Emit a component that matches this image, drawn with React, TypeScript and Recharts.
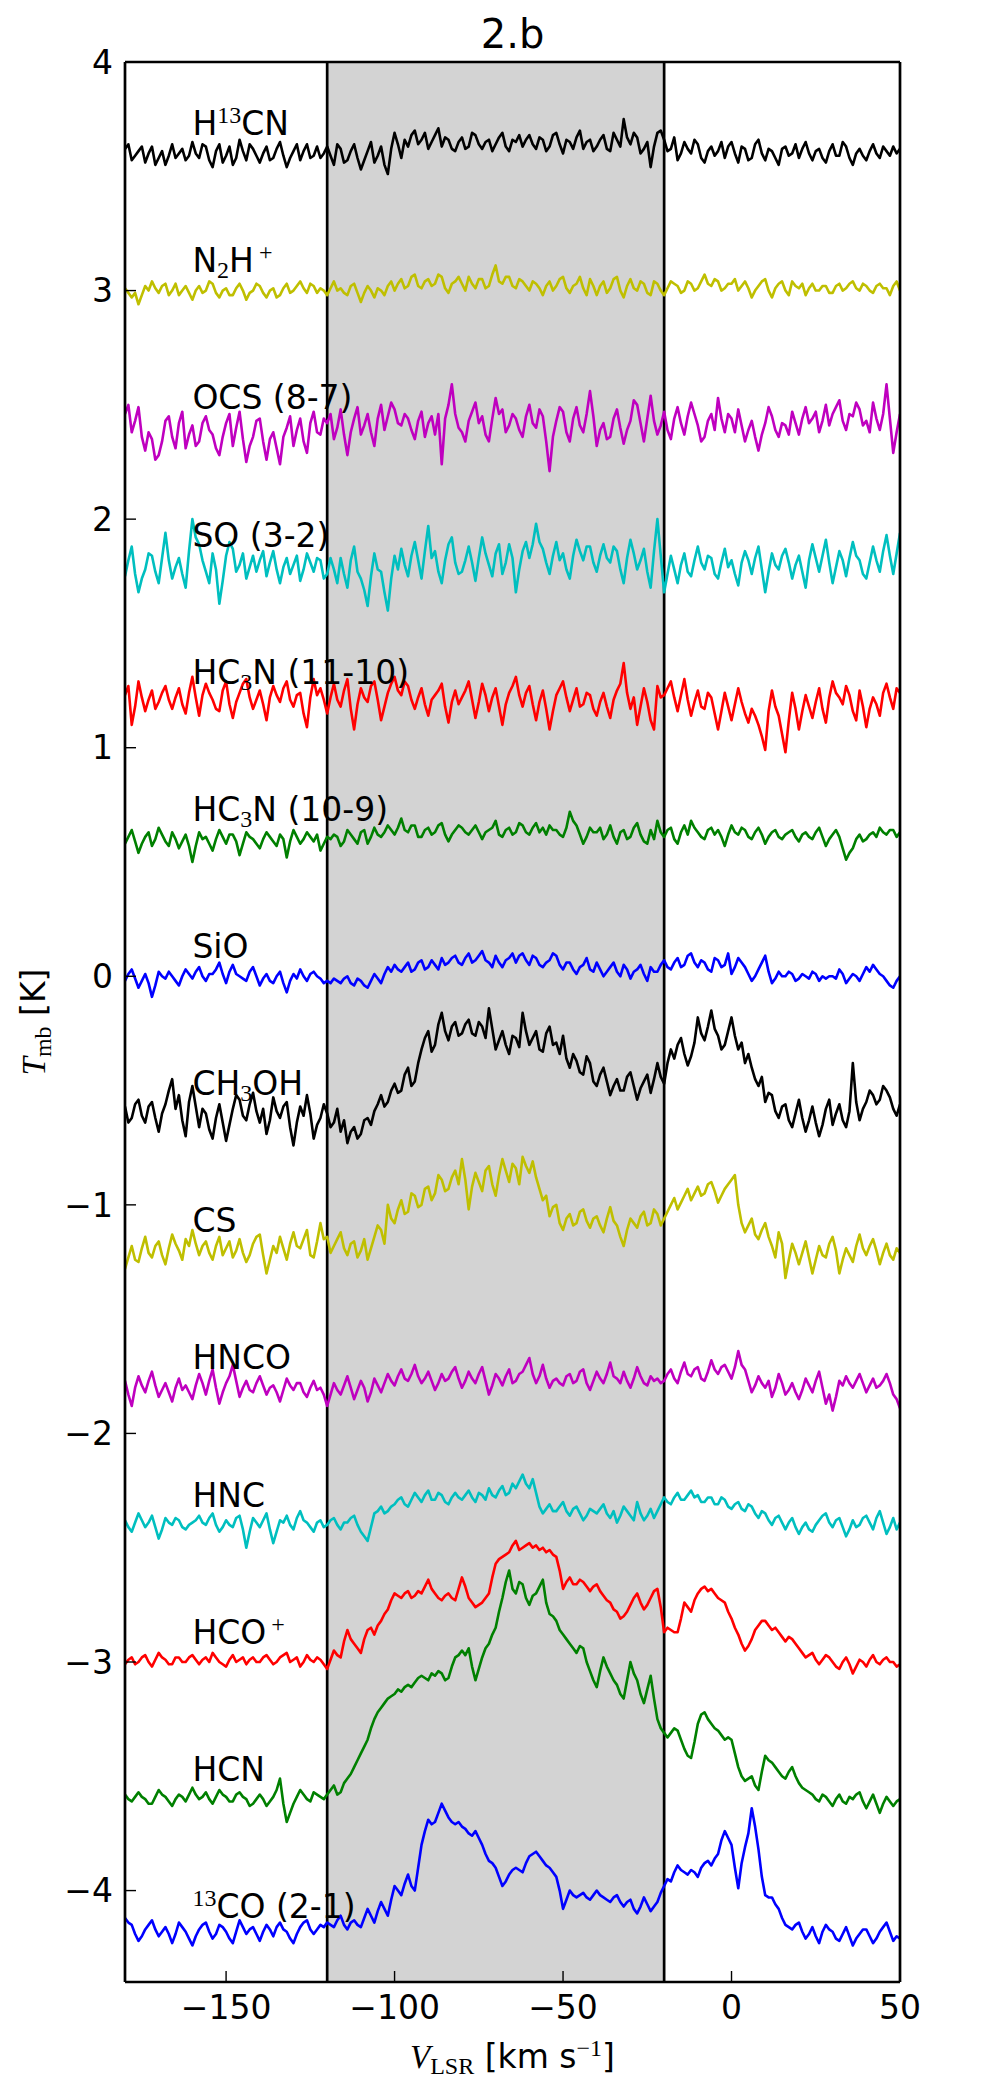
import {
  LineChart,
  Line,
  XAxis,
  YAxis,
  ReferenceArea,
  ReferenceLine,
  ReferenceDot,
} from "recharts";

// velocity channels [km/s], 1 km/s apart
const VELOCITY = [
  -180, -179, -178, -177, -176, -175, -174, -173, -172, -171, -170, -169, -168, -167, -166, -165, -164, -163, -162, -161,
  -160, -159, -158, -157, -156, -155, -154, -153, -152, -151, -150, -149, -148, -147, -146, -145, -144, -143, -142, -141,
  -140, -139, -138, -137, -136, -135, -134, -133, -132, -131, -130, -129, -128, -127, -126, -125, -124, -123, -122, -121,
  -120, -119, -118, -117, -116, -115, -114, -113, -112, -111, -110, -109, -108, -107, -106, -105, -104, -103, -102, -101,
  -100, -99, -98, -97, -96, -95, -94, -93, -92, -91, -90, -89, -88, -87, -86, -85, -84, -83, -82, -81,
  -80, -79, -78, -77, -76, -75, -74, -73, -72, -71, -70, -69, -68, -67, -66, -65, -64, -63, -62, -61,
  -60, -59, -58, -57, -56, -55, -54, -53, -52, -51, -50, -49, -48, -47, -46, -45, -44, -43, -42, -41,
  -40, -39, -38, -37, -36, -35, -34, -33, -32, -31, -30, -29, -28, -27, -26, -25, -24, -23, -22, -21,
  -20, -19, -18, -17, -16, -15, -14, -13, -12, -11, -10, -9, -8, -7, -6, -5, -4, -3, -2, -1,
  0, 1, 2, 3, 4, 5, 6, 7, 8, 9, 10, 11, 12, 13, 14, 15, 16, 17, 18, 19,
  20, 21, 22, 23, 24, 25, 26, 27, 28, 29, 30, 31, 32, 33, 34, 35, 36, 37, 38, 39,
  40, 41, 42, 43, 44, 45, 46, 47, 48, 49, 50,
];

// vertical offset of each spectrum [K]
const OFFSETS = [3.6, 3.0, 2.4, 1.8, 1.2, 0.6, 0, -0.6, -1.2, -1.8, -2.4, -3.0, -3.6, -4.2];

const COLORS = [
  "#000000", "#bfbf00", "#bf00bf", "#00bfbf", "#ff0000", "#008000", "#0000ff",
  "#000000", "#bfbf00", "#bf00bf", "#00bfbf", "#ff0000", "#008000", "#0000ff",
];

// spectra in hundredths of K, before the offset (one row = 20 km/s)
const H13CN = [
  2, 4, -3, -1, 1, 3, -4, 0, 3, -5, -2, 1, -5, -1, 4, -2, 0, 2, -3, -1,
  5, 0, -2, 4, 3, -3, -6, 1, 4, -4, -1, 3, -5, -2, 6, 1, -3, 4, 2, -1,
  -4, 0, 3, -3, -2, 2, 5, -1, -6, -2, 1, 4, -3, 1, 4, -2, -1, 3, -2, 0,
  3, -1, -5, 4, 2, -4, -3, 1, 4, -2, -7, -3, 1, 5, -4, -1, 3, -5, -9, 2,
  9, 4, -2, 6, 3, 8, 10, 4, 6, 9, 2, 5, 8, 11, 3, 7, 6, 2, 1, 5,
  7, 2, 3, 9, 8, 4, 2, 5, 6, 1, 4, 7, 9, 3, 1, 6, 5, 8, 3, 6,
  8, 4, 2, 7, 6, 1, 3, 8, 9, 4, 0, 6, 5, 2, 7, 10, 2, 5, 6, 1,
  3, 6, 8, 2, 1, 9, 6, 3, 15, 7, 4, 9, 7, 0, 2, 5, -6, 3, 9, 10,
  6, 1, 2, 7, -3, 0, 5, 2, 0, 6, 4, -2, -4, 1, 3, -1, 1, 5, -2, 3,
  5, 0, -4, 3, 2, -3, -2, 4, 6, 0, -3, 2, 1, -2, -5, 2, 3, -1, 0, 4,
  -2, 2, 5, 0, -3, 1, 2, -2, -4, 1, 4, -1, -1, 5, 3, -2, -5, 0, 2, -1,
  -3, 1, 4, 0, -2, 3, 1, -1, 3, 0, 2,
];
const N2HP = [
  1, -1, -3, -1, -6, -2, 2, 0, 4, 1, -1, 2, 3, -2, 0, 3, -2, 0, 2, -1,
  -4, 0, 2, -1, 0, 4, 3, -1, -3, 0, 1, -2, -2, 1, 3, 0, -4, -1, 0, 3,
  2, -1, -3, 0, 1, -3, -2, 1, 3, -1, 0, 2, 4, 1, -1, 3, 2, -1, 1, 0,
  -2, 1, 4, 0, 1, -1, -2, 2, 3, -1, -5, -1, 2, 0, -3, 1, 0, -2, 2, 4,
  0, 3, 5, 1, 2, 6, 7, 2, 1, 4, 5, 2, 3, 7, 6, 1, -1, 3, 4, 6,
  3, 0, 6, 3, 1, 5, 5, 1, 2, 7, 11, 4, 3, 6, 6, 2, 1, 5, 4, 2,
  0, 4, 3, 1, -2, 2, 4, 0, 2, 5, 6, 1, -1, 2, 3, 6, 1, -2, 5, 2,
  -2, 2, 4, -1, 1, 5, 6, 0, -3, 2, 5, 1, 0, 4, 3, -1, -2, 4, 3, 0,
  -2, 1, 4, 3, 2, -1, 0, 4, 3, 0, 1, 4, 7, 3, 2, 5, 4, 0, 1, 3,
  3, 5, 0, 2, 4, 1, -3, 0, 2, 4, 5, 0, -3, 1, 3, 4, 0, -2, 4, 2,
  1, 3, -2, 1, 3, 0, 0, 2, 2, -1, -1, 2, 3, 0, 1, 3, 4, 1, 0, 3,
  2, 0, -1, 2, 3, 1, 1, -2, 2, 4, 0,
];
const OCS = [
  6, 10, -2, 3, 9, -4, -10, -2, -5, -14, -12, -6, 3, 5, -4, -9, 2, 7, -9, -3,
  1, -8, -6, 2, 5, -1, -3, -9, -12, -4, 2, 6, -8, 0, 7, -5, -15, -8, -4, 3,
  4, -6, -14, -5, -2, -9, -16, -4, 0, 5, -8, -1, 4, -6, -11, 2, 7, -2, -3, 4,
  2, 6, -5, 0, 8, -3, -12, -2, 4, 9, -3, 1, 6, -2, -8, 4, 10, -1, 5, 11,
  8, 2, 1, 6, 4, -1, -5, 3, 7, -4, 2, 5, -3, 6, -16, 4, 10, 19, 6, 0,
  -2, -6, 3, 7, 11, 2, 5, -3, -6, 4, 13, 6, 8, -2, 1, 6, 4, -1, -4, 5,
  10, 2, 0, 8, 5, -6, -19, -4, 3, 9, 7, -2, -6, 4, 9, 1, -2, 6, 16, 5,
  -8, -1, 2, -5, -4, 4, 8, 0, -7, -1, 3, 12, 10, 2, -6, 4, 14, 3, -3, 1,
  7, -1, -5, 4, 9, 2, -3, 5, 11, 6, 1, -6, -4, 3, 6, -1, 13, 4, -2, 6,
  4, -2, 8, 1, -6, -1, 3, -4, -10, -3, 2, 9, 5, -1, -4, 2, 1, -3, 7, 2,
  -3, 4, 9, 2, 4, 7, -2, 3, 10, 1, 6, 9, 12, 3, -1, 6, 5, 11, 8, 1,
  3, -2, 11, 4, -1, 6, 19, 4, -11, -2, 6,
];
const SO = [
  -5, 2, 8, -4, -12, -6, -2, 5, 4, -3, -8, 3, 14, 2, -6, -1, 3, -4, -10, 6,
  20, 12, 9, 2, -3, -8, 5, -2, -17, -7, 4, 10, 7, -3, 0, 5, -6, -1, 4, -3,
  2, 6, -5, 1, 6, -2, -8, -1, 3, -4, 0, 4, -7, -2, 5, 1, -3, 3, 2, -6,
  -4, 3, -2, -8, 3, -4, -10, 2, 8, -3, -6, -11, -18, -5, 5, -2, -3, -12, -20, -6,
  4, -2, 7, 0, -5, 4, 10, 2, -6, 6, 17, 3, 6, -3, -8, 2, 9, 12, 1, -4,
  -3, 2, 8, 1, -7, 3, 12, 5, 0, -5, 5, 9, -4, 1, 9, 3, -12, -2, 6, 10,
  3, 9, 18, 10, 7, 1, -4, 4, 10, 2, 5, -2, -6, 4, 11, 6, 2, 8, 8, 1,
  -3, 4, 9, 3, 1, 8, 6, -2, -8, 3, 11, 5, -2, 2, 7, -3, -10, 6, 20, 4,
  -12, -4, 4, -2, -8, 0, 5, -3, -5, 2, 8, 1, -2, 4, 3, -4, -6, 1, 7, -1,
  2, -4, -9, 1, 6, 2, -4, 3, 8, -2, -12, -3, 5, 0, -2, 4, 7, 1, -6, 0,
  4, -3, -10, 2, 9, 3, -3, 4, 11, 1, -8, -1, 6, 2, -5, 3, 10, 4, 2, -4,
  -6, 1, 8, 2, -3, 6, 13, 4, -4, 5, 14,
];
const HC3N_11 = [
  3, 7, -10, -2, 9, 2, -4, 1, 5, -3, 0, 4, 7, 1, -3, 2, 6, -1, -5, 4,
  11, 2, -6, 3, 8, 4, 1, -3, -4, 5, 9, -1, -7, 0, 4, 8, 10, 2, -3, 1,
  5, -1, -8, 2, 7, 3, 0, 6, 9, 1, -2, 3, 4, -5, -11, 2, 10, 3, 6, 1,
  -5, 2, 8, 1, -2, 5, 10, -3, -12, -1, 6, 2, 0, 7, 9, 1, -8, -2, 4, 8,
  11, 5, 3, 9, 7, 1, -3, 2, 6, -1, -6, 1, 3, 5, 8, -2, -9, 0, 5, -1,
  2, 5, 9, 1, -7, 0, 8, 3, -4, 2, 6, -2, -10, -1, 4, 7, 11, 3, -2, 4,
  7, -1, -8, 0, 5, -3, -12, -4, 3, 6, 9, 2, -4, 1, 6, -2, -1, 4, 3, -3,
  -6, 0, 4, -2, -7, 1, 5, 8, 17, 4, -3, 2, -10, -2, 6, 0, -8, -12, 7, 2,
  3, 6, 9, 2, -4, 3, 10, 1, -6, 0, 5, -2, -3, 4, 2, -5, -12, -4, 4, -2,
  -8, -1, 6, 0, -5, -9, -3, -6, -10, -15, -21, -4, 5, -2, -6, -14, -22, -8, 4, -3,
  -12, -4, 3, -2, -7, 0, 6, -3, -9, 2, 9, 4, 2, -1, 7, 3, -4, -8, 5, -2,
  -11, -3, 2, -1, -6, 4, 8, 2, -3, 6, 4,
];
const HC3N_10 = [
  -2, 1, 4, -1, -6, -2, 1, 3, -3, 0, 5, 2, -1, -3, 3, 0, -4, -1, 2, -3,
  -10, -3, 3, 0, 1, -2, -5, 0, 4, 1, -2, 2, 2, -1, -7, -2, 3, 1, 0, -2,
  -4, 0, 3, 1, -1, -3, 2, 0, -8, -1, 4, 1, -2, 0, 3, 1, -1, 2, -5, -2,
  1, 0, 2, 1, -3, -1, 4, 2, 0, -2, 3, 4, -2, 1, 5, 2, 1, 3, 6, 4,
  2, 5, 9, 4, 3, 6, 6, 1, 1, 4, 5, 2, 3, 6, 7, 2, -1, 2, 4, 6,
  5, 3, 2, 4, 6, 3, 0, 3, 4, 5, 8, 2, 1, 4, 5, 2, 3, 7, 6, 3,
  2, 5, 7, 3, 5, 2, 6, 4, 4, 2, 1, 5, 12, 8, 6, 2, -2, 1, 5, 3,
  3, 5, 0, 2, 6, 1, -2, 3, 4, 0, 1, 5, 7, 2, -1, -2, 4, 0, 8, 3,
  1, 4, 5, 0, -2, 3, 6, 2, 8, 5, 3, 1, 0, 4, 5, 2, 4, 1, -3, 2,
  6, 3, 2, 5, 4, 1, 0, 3, 5, 2, -2, 1, 3, 4, 1, 0, 2, 3, 4, 1,
  -1, 2, 3, 1, 0, 3, 5, 1, -3, 0, 2, 4, 1, -4, -9, -6, -4, 0, 2, -1,
  0, 2, 3, 1, 5, 3, 2, 4, 4, 1, 3,
];
const SIO = [
  -2, 1, 3, -1, -5, -2, 1, -3, -9, -4, 2, 0, -1, 2, 0, -2, -4, 0, 3, 1,
  -1, 2, 4, 0, -2, 1, 1, 3, 6, 1, -3, 2, 5, 1, 0, -1, -2, 2, 4, 0,
  -4, -1, 1, -2, -3, 0, 2, -3, -7, -2, 1, -1, 3, 0, -2, 1, 2, 0, -1, -3,
  -2, -3, -1, -2, -3, -1, 0, -3, -4, -1, -2, -4, -5, -2, 1, -1, -3, 1, 4, 2,
  5, 3, 2, 4, 6, 2, 3, 6, 7, 3, 4, 7, 5, 3, 8, 5, 6, 8, 9, 6,
  5, 8, 10, 6, 7, 9, 11, 7, 6, 4, 9, 6, 4, 7, 8, 10, 6, 9, 10, 7,
  5, 9, 8, 5, 4, 6, 7, 10, 9, 5, 3, 6, 6, 3, 1, 4, 5, 8, 3, 2,
  6, 3, 0, 2, 4, 6, 2, 0, 5, 3, -1, 2, 3, 5, 1, -2, 4, 2, 2, 5,
  7, 4, 3, 6, 8, 4, 5, 9, 10, 6, 4, 7, 6, 3, 2, 8, 7, 4, 5, 10,
  1, 4, 8, 6, 4, 1, -2, 0, 3, 6, 9, 2, -3, -1, 2, 0, 0, 2, 1, -2,
  -1, 1, 0, -1, 2, 1, -2, 0, -1, 0, 0, -1, 3, 1, -3, -1, 1, 0, -2, 1,
  4, 2, 5, 3, 1, 0, -2, -4, -5, -2, 0,
];
const CH3OH = [
  3, -4, -2, 4, 6, -1, -4, 3, 5, -2, -8, 0, 4, 10, 15, 2, 8, -3, -10, 5,
  12, 3, -6, 2, 0, -7, -11, -2, 4, -4, -12, -5, 2, 8, 6, -1, -3, 4, 9, 1,
  -4, 2, -9, -3, 7, 1, -2, 3, 5, -6, -14, -4, 3, -1, 8, 0, -11, -5, -2, 4,
  0, -6, -4, 2, -8, -3, -13, -8, -6, -11, -9, -3, -2, -5, 1, 4, 8, 3, 5, 10,
  13, 9, 10, 17, 20, 12, 14, 22, 28, 33, 36, 27, 30, 39, 44, 36, 32, 38, 40, 34,
  35, 39, 41, 35, 34, 40, 38, 33, 46, 37, 28, 32, 36, 30, 26, 34, 33, 29, 44, 36,
  30, 33, 36, 28, 27, 35, 38, 30, 31, 26, 34, 24, 20, 26, 23, 18, 17, 25, 22, 14,
  12, 17, 20, 14, 8, 12, 15, 10, 10, 16, 18, 12, 6, 11, 14, 17, 9, 15, 22, 16,
  13, 22, 28, 24, 30, 33, 26, 21, 25, 31, 42, 35, 32, 38, 45, 37, 34, 28, 30, 36,
  42, 34, 28, 31, 22, 26, 20, 15, 12, 16, 5, 9, 8, 1, -2, 3, 4, -3, -6, 0,
  6, -2, -8, -3, 3, -4, -10, -5, 2, 6, -5, 0, 4, -3, -6, 1, 22, 5, -3, 2,
  5, 10, 8, 4, 6, 12, 10, 7, 2, -1, 4,
];
const CS = [
  -8, -3, 2, -4, -5, 1, 6, -1, -3, 2, 4, -2, -6, 1, 7, 3, 0, -4, 5, 2,
  9, 3, -2, 2, 4, -1, -4, 2, 6, -2, 1, 4, -3, 0, 5, -1, -5, -2, 3, 6,
  7, -2, -10, -4, 2, -1, 6, 1, -4, 3, 8, 2, 1, 5, 9, -2, -3, 4, 12, 5,
  6, -1, 2, 5, 8, 1, -2, 3, 4, -3, 0, 5, -4, 1, 6, 11, 9, 3, 20, 14,
  12, 18, 22, 16, 17, 25, 24, 19, 20, 27, 28, 22, 25, 33, 31, 26, 27, 32, 35, 29,
  40, 31, 18, 28, 34, 30, 26, 35, 37, 29, 24, 33, 40, 35, 30, 38, 36, 29, 41, 37,
  34, 39, 32, 27, 22, 24, 15, 19, 20, 12, 9, 14, 16, 11, 12, 17, 18, 13, 10, 14,
  15, 11, 8, 14, 19, 13, 11, 6, 2, 9, 14, 12, 10, 15, 17, 11, 12, 18, 16, 11,
  14, 17, 20, 23, 18, 21, 24, 27, 22, 25, 28, 24, 25, 29, 30, 26, 21, 24, 27, 29,
  31, 33, 20, 12, 8, 11, 14, 7, 5, 9, 12, 6, 2, -3, 8, 3, -12, -4, 3, -1,
  -6, -1, 4, -3, -10, -4, 2, -2, -3, 3, 6, 0, -10, -4, 1, -2, -5, 2, 7, 1,
  -2, 2, 5, 0, -6, -1, 3, -2, -4, 1, -1,
];
const HNCO = [
  3, -3, -8, 0, 5, 1, -2, 3, 7, 1, -4, -1, 2, -2, -6, 0, 4, -1, 1, -2,
  -5, 1, 6, 2, -3, 3, 8, 0, -7, -2, 2, 5, 10, 3, -4, 0, 3, -1, -2, 2,
  5, 1, -3, 0, 1, -2, -6, -1, 4, 1, -1, 2, 2, -2, -4, 0, 3, -1, 0, -3,
  -8, -3, 2, -1, -3, 1, 5, 0, -5, -1, 3, 0, -6, -2, 4, 1, -2, 2, 6, 3,
  1, 5, 8, 4, 3, 6, 10, 5, 2, 4, 7, 3, -1, 2, 6, 3, 4, 7, 9, 4,
  0, 3, 7, 4, 2, 6, 9, 3, -3, 1, 6, 4, 1, 5, 8, 2, 3, 6, 7, 10,
  13, 6, 2, 5, 10, 4, 0, 3, 4, 2, 1, 5, 6, 2, 3, 7, 8, 2, -1, 3,
  7, 4, 2, 6, 11, 5, 4, 2, 7, 3, 0, 4, 9, 5, 2, 1, 5, 3, 4, 2,
  3, 6, 8, 4, 2, 7, 11, 6, 5, 8, 9, 4, 3, 7, 12, 8, 6, 9, 10, 7,
  4, 9, 16, 10, 8, 3, -2, 1, 5, 2, 0, 3, -4, 0, 6, 2, -3, -1, 2, -2,
  -5, -1, 4, 1, -2, 3, 7, 0, -7, -3, -10, -4, 3, 1, 5, 2, 0, 3, 6, 2,
  -2, 1, 4, 0, 1, 3, 6, 2, -3, -5, -9,
];
const HNC = [
  2, -1, -3, 1, 5, 2, -1, 1, 4, -1, -6, -2, 3, 1, 0, 3, 2, -1, -2, 0,
  1, 2, 4, 1, 0, 3, 5, 0, -3, -1, 2, 0, -1, 3, 4, -2, -10, -3, 3, 1,
  -1, 2, 5, -2, -8, -3, 2, 1, 4, 0, -2, 3, 6, 2, 1, -1, -3, 1, 2, -1,
  0, 2, 3, 0, -2, 1, 1, 3, 4, 0, -3, -5, -7, -1, 5, 6, 8, 5, 6, 8,
  9, 11, 12, 9, 8, 11, 14, 12, 10, 13, 15, 11, 11, 14, 13, 10, 9, 12, 14, 12,
  11, 13, 15, 12, 10, 14, 13, 11, 16, 13, 12, 15, 17, 13, 14, 18, 16, 19, 22, 18,
  16, 20, 14, 8, 5, 7, 9, 6, 6, 8, 10, 6, 4, 7, 8, 5, 2, 4, 7, 6,
  5, 7, 9, 5, 3, 6, 1, 4, 8, 6, 4, 2, 10, 5, 2, 4, 7, 3, 6, 9,
  12, 10, 9, 12, 14, 11, 11, 13, 15, 12, 13, 10, 10, 12, 12, 9, 9, 12, 11, 8,
  7, 9, 10, 7, 6, 9, 8, 5, 3, 6, 5, 2, 0, 3, 4, 1, -2, 1, 3, -1,
  -4, -1, 1, -2, -3, 0, 2, 4, 5, 1, -1, 2, 3, -1, -5, -2, 2, -1, 0, 3,
  4, 1, -2, 3, 6, 1, -4, -1, 3, -2, 1,
];
const HCOP = [
  -1, 1, 2, -1, 0, 2, 3, 0, -2, 1, 4, 2, 1, -1, -1, 2, 2, 0, 0, 2,
  3, 1, -1, 1, 2, 0, 4, 2, 0, -1, -2, 1, 3, 0, 1, 2, -1, 1, 2, 0,
  0, 2, 3, 1, -1, 0, 2, 3, 4, 0, 1, 2, -2, 0, 3, 1, 0, 2, 1, -1,
  -3, 1, 5, 3, 2, 9, 14, 10, 8, 6, 4, 10, 14, 15, 12, 16, 18, 21, 23, 27,
  30, 29, 28, 30, 31, 28, 29, 31, 30, 33, 36, 32, 30, 28, 27, 29, 30, 28, 27, 32,
  37, 33, 28, 26, 24, 25, 26, 28, 30, 37, 43, 45, 46, 47, 48, 51, 53, 49, 50, 51,
  52, 50, 51, 49, 50, 48, 49, 47, 46, 40, 32, 35, 37, 34, 34, 36, 35, 33, 31, 33,
  34, 31, 29, 27, 26, 23, 22, 19, 20, 22, 25, 28, 30, 26, 23, 25, 28, 31, 32, 24,
  13, 15, 14, 13, 13, 19, 26, 24, 22, 27, 30, 32, 33, 31, 32, 30, 28, 27, 26, 22,
  19, 15, 12, 8, 5, 7, 10, 14, 16, 18, 18, 16, 14, 15, 13, 11, 9, 11, 10, 8,
  6, 4, 2, 3, 4, 1, -1, 1, 3, 2, 0, -2, -3, 0, 2, -1, -5, -2, 1, 0,
  -2, 1, 3, 0, -1, 1, 2, 0, 0, -2, -1,
];
const HCN = [
  2, 0, -1, 1, 3, 1, 0, -2, -2, 1, 4, 2, 1, -1, -3, 0, 2, 1, -1, 2,
  5, 2, 0, 1, 3, 0, -2, 1, 4, 2, 1, -1, -1, 2, 3, 1, 0, -3, -2, 0,
  2, 0, -3, -1, 1, 4, 9, -2, -10, -6, -2, 1, 4, 2, 0, -1, 3, 2, 1, 0,
  2, 4, 6, 2, 3, 7, 9, 11, 14, 17, 20, 23, 26, 31, 35, 38, 40, 42, 44, 45,
  46, 48, 47, 49, 50, 49, 51, 53, 54, 53, 52, 55, 54, 56, 55, 52, 53, 58, 62, 63,
  65, 63, 66, 58, 52, 57, 62, 66, 68, 72, 75, 82, 88, 95, 100, 92, 90, 95, 94, 88,
  85, 89, 90, 93, 96, 86, 81, 80, 78, 74, 72, 70, 68, 66, 64, 67, 66, 60, 56, 52,
  49, 56, 62, 58, 55, 52, 50, 46, 44, 52, 60, 55, 52, 46, 42, 48, 54, 44, 35, 31,
  29, 27, 29, 31, 30, 26, 22, 19, 18, 25, 33, 37, 38, 35, 33, 31, 30, 28, 26, 27,
  26, 20, 14, 10, 8, 9, 10, 6, 4, 12, 19, 17, 16, 14, 12, 10, 9, 12, 14, 10,
  7, 5, 4, 3, 2, 0, -1, 2, 1, -1, -3, 0, 2, -1, -2, 1, 0, 2, 3, -1,
  -4, -1, 2, -2, -6, -2, 1, -1, -3, -1, 0,
];
const CO13 = [
  8, 6, 5, 1, -2, 0, 3, 5, 7, 3, 0, 2, 4, 1, -3, 1, 6, 4, 2, -1,
  -4, 0, 3, 5, 6, 2, -1, 1, 5, 4, 2, -1, -3, 2, 7, 4, 1, 3, 4, 1,
  -2, 2, 5, 3, 0, 4, 6, 3, 2, -1, -3, 1, 4, 6, 7, 3, 1, 3, 5, 4,
  6, 5, 4, 7, 9, 5, 3, 6, 7, 5, 4, 8, 12, 9, 6, 11, 15, 12, 9, 16,
  22, 20, 18, 23, 27, 22, 20, 30, 40, 46, 51, 49, 50, 54, 58, 55, 52, 50, 49, 50,
  48, 47, 45, 44, 46, 43, 40, 36, 33, 32, 30, 26, 22, 24, 27, 29, 30, 29, 28, 32,
  35, 36, 37, 35, 33, 31, 30, 28, 26, 20, 12, 16, 20, 18, 17, 18, 19, 17, 16, 18,
  20, 18, 17, 16, 15, 17, 18, 15, 13, 15, 16, 12, 10, 13, 17, 14, 11, 13, 15, 19,
  22, 25, 24, 28, 31, 29, 28, 27, 29, 28, 26, 30, 32, 33, 31, 34, 36, 42, 46, 43,
  40, 30, 21, 32, 39, 45, 56, 48, 38, 26, 18, 17, 17, 14, 12, 8, 5, 4, 3, 5,
  6, 2, -1, 1, 4, 0, -3, 2, 5, 3, 2, -1, -2, 1, 4, 0, -4, -1, 1, 3,
  3, 0, -3, -1, 2, 4, 6, 2, -2, 0, -1,
];

const SPECTRA = [H13CN, N2HP, OCS, SO, HC3N_11, HC3N_10, SIO, CH3OH, CS, HNCO, HNC, HCOP, HCN, CO13];

type Part = [string, ("sup" | "sub" | "it")?, number?];

const LABELS: Part[][] = [
  [["H"], ["13", "sup"], ["CN"]],
  [["N"], ["2", "sub"], ["H"], ["+", "sup", 5]],
  [["OCS (8-7)"]],
  [["SO (3-2)"]],
  [["HC"], ["3", "sub"], ["N (11-10)"]],
  [["HC"], ["3", "sub"], ["N (10-9)"]],
  [["SiO"]],
  [["CH"], ["3", "sub"], ["OH"]],
  [["CS"]],
  [["HNCO"]],
  [["HNC"]],
  [["HCO"], ["+", "sup", 5]],
  [["HCN"]],
  [["13", "sup"], ["CO (2-1)"]],
];

const X_TICKS = [-150, -100, -50, 0, 50];
const Y_TICKS = [-4, -3, -2, -1, 0, 1, 2, 3, 4];
const X_DOMAIN = [-180, 50];
const Y_DOMAIN = [-4.4, 4];
const SHADE = [-120, -20];

const SANS = "DejaVu Sans";
const SERIF = "Liberation Serif";
const FONT = 33;
const TICK_LEN = 11;

const rows = VELOCITY.map((v, i) => {
  const row: Record<string, number> = { v };
  SPECTRA.forEach((s, k) => {
    row["s" + k] = +(OFFSETS[k] + s[i] / 100).toFixed(3);
  });
  return row;
});

const fmt = (v: number) => (v < 0 ? "\u2212" + Math.abs(v) : String(v));

function MathText({ x, y, parts, size = FONT, anchor = "start", transform }: any) {
  let level = 0;
  return (
    <text
      x={x}
      y={y}
      textAnchor={anchor}
      transform={transform}
      fill="#000"
      style={{ whiteSpace: "pre" }}
    >
      {parts.map(([t, kind, dx]: Part, i: number) => {
        const next = kind === "sup" ? -Math.round(size * 0.36) : kind === "sub" ? Math.round(size * 0.17) : 0;
        const dy = next - level;
        level = next;
        const script = kind === "sup" || kind === "sub";
        return (
          <tspan
            key={i}
            dy={dy}
            dx={dx}
            fontSize={script ? Math.round(size * 0.74) : size}
            fontFamily={kind ? SERIF : SANS}
            fontStyle={kind === "it" ? "italic" : "normal"}
          >
            {t}
          </tspan>
        );
      })}
    </text>
  );
}

const tickStyle = { fill: "#000", fontSize: FONT, fontFamily: SANS };
const spine = { stroke: "#000", strokeWidth: 2.7 };
const inTick = { stroke: "#000", strokeWidth: 1.4 };

function App() {
  return (
    <div style={{ position: "absolute", left: 0, top: 0, background: "#fff" }}>
      <LineChart
        width={1000}
        height={2089}
        data={rows}
        margin={{ top: 61, right: 99, bottom: 47, left: 65 }}
      >
        {/* negative tick sizes turn the tick marks inward, as in the original */}
        <XAxis
          dataKey="v"
          type="number"
          domain={X_DOMAIN}
          allowDataOverflow
          ticks={X_TICKS}
          interval={0}
          tickFormatter={fmt}
          tick={tickStyle}
          tickSize={-TICK_LEN}
          tickMargin={14 + TICK_LEN}
          tickLine={inTick}
          axisLine={spine}
          height={60}
          label={(p: any) => (
            <MathText
              x={p.viewBox.x + p.viewBox.width / 2}
              y={p.viewBox.y + 86}
              anchor="middle"
              parts={[["V", "it"], ["LSR", "sub"], [" [km s"], ["\u22121", "sup"], ["]"]]}
            />
          )}
        />
        <YAxis
          type="number"
          domain={Y_DOMAIN}
          allowDataOverflow
          ticks={Y_TICKS}
          interval={0}
          tickFormatter={fmt}
          tick={tickStyle}
          tickSize={-TICK_LEN}
          tickMargin={12 + TICK_LEN}
          tickLine={inTick}
          axisLine={spine}
          width={60}
          label={(p: any) => {
            const cx = p.viewBox.x - 20;
            const cy = p.viewBox.y + p.viewBox.height / 2;
            return (
              <MathText
                x={cx}
                y={cy}
                anchor="middle"
                transform={`rotate(-90, ${cx}, ${cy})`}
                parts={[["T", "it"], ["mb", "sub"], [" [K]"]]}
              />
            );
          }}
        />
        <XAxis
          xAxisId="top"
          orientation="top"
          height={1}
          type="number"
          dataKey="v"
          domain={X_DOMAIN}
          allowDataOverflow
          ticks={X_TICKS}
          interval={0}
          tick={false}
          tickSize={-TICK_LEN}
          tickLine={inTick}
          axisLine={spine}
          label={(p: any) => (
            <text
              x={p.viewBox.x + p.viewBox.width / 2}
              y={p.viewBox.y - 13}
              textAnchor="middle"
              fontFamily={SANS}
              fontSize={40}
              fill="#000"
            >
              2.b
            </text>
          )}
        />
        <YAxis
          yAxisId="right"
          orientation="right"
          width={1}
          type="number"
          domain={Y_DOMAIN}
          allowDataOverflow
          ticks={Y_TICKS}
          interval={0}
          tick={false}
          tickSize={-TICK_LEN}
          tickLine={inTick}
          axisLine={spine}
        />

        <ReferenceArea x1={SHADE[0]} x2={SHADE[1]} fill="#d3d3d3" fillOpacity={1} stroke="none" />
        <ReferenceLine x={SHADE[0]} stroke="#000" strokeWidth={2.7} />
        <ReferenceLine x={SHADE[1]} stroke="#000" strokeWidth={2.7} />

        {SPECTRA.map((_, k) => (
          <Line
            key={k}
            type="linear"
            dataKey={"s" + k}
            stroke={COLORS[k]}
            strokeWidth={2.6}
            strokeLinejoin="round"
            dot={false}
            activeDot={false}
            isAnimationActive={false}
          />
        ))}

        {LABELS.map((parts, k) => (
          <ReferenceDot
            key={k}
            x={-160}
            y={OFFSETS[k] + 0.08}
            r={0}
            stroke="none"
            fill="none"
            label={(p: any) => <MathText x={p.viewBox.x} y={p.viewBox.y} parts={parts} />}
          />
        ))}
      </LineChart>
    </div>
  );
}

export default App;
